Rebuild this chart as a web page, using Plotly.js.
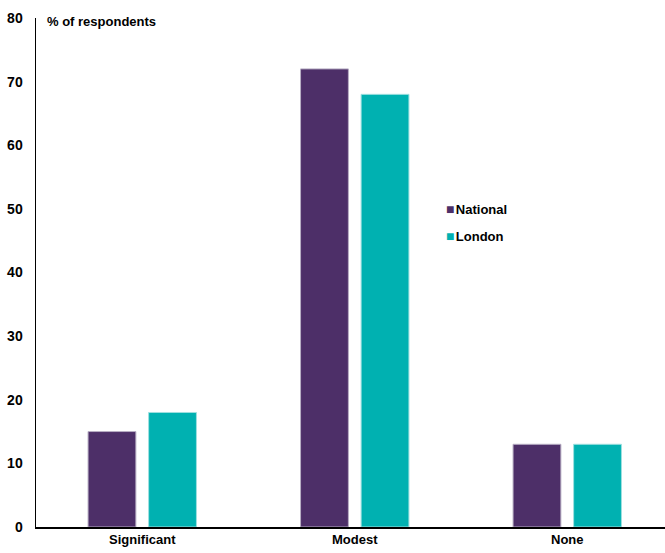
<!DOCTYPE html>
<html><head><meta charset="utf-8">
<script src="https://cdn.plot.ly/plotly-3.0.1.min.js"></script>
<style>html,body{margin:0;padding:0;background:#fff}#chart{width:665px;height:553px}</style>
</head><body><div id="chart"></div>
<script>
const categories = ["Significant", "Modest", "None"];
const seriesNames = ["National", "London"];
const nationalValues = [15, 72, 13];
const londonValues = [18, 68, 13];
const yTicks = [0, 10, 20, 30, 40, 50, 60, 70, 80];
const colors = ["#4D2F68", "#00B1B1"];
const FONT = "'Liberation Sans Narrow', 'Arial Narrow', 'Liberation Sans', Arial, sans-serif";

const traces = [
  {type: "bar", name: seriesNames[0], x: categories, y: nationalValues, showlegend: false,
   marker: {color: colors[0], line: {color: "#B8AFC4", width: 1}}, hoverinfo: "y"},
  {type: "bar", name: seriesNames[1], x: categories, y: londonValues, showlegend: false,
   marker: {color: colors[1], line: {color: "#9FE0E0", width: 1}}, hoverinfo: "y"}
];
const legendY = [0.625, 0.572];
const legendAnn = seriesNames.map((n, i) => ({
  text: "<span style='color:" + colors[i] + ";font-size:14px'>■</span><span style='font-size:5px'> </span>" + n,
  xref: "paper", yref: "paper", x: 0.649, y: legendY[i], xanchor: "left", yanchor: "middle",
  showarrow: false, font: {family: FONT, size: 13, weight: "bold", color: "#000"}
}));
const layout = {
  width: 665, height: 553,
  margin: {l: 36, r: 0, t: 18, b: 26},
  paper_bgcolor: "#fff", plot_bgcolor: "#fff",
  font: {family: FONT, size: 13, color: "#000"},
  barmode: "group", bargap: 0.43, bargroupgap: 0.21,
  showlegend: false,
  xaxis: {range: [-0.5, 2.46], showline: true, linecolor: "#000", linewidth: 1.5, ticks: "", showgrid: false,
          tickfont: {family: FONT, size: 13, weight: "bold"}, fixedrange: true},
  yaxis: {range: [0, 80], tickvals: yTicks, showline: true, linecolor: "#000", linewidth: 1.5,
          ticks: "", showgrid: false, zeroline: false, ticklabelstandoff: 9,
          tickfont: {family: FONT, size: 14, weight: "bold"}, fixedrange: true},
  annotations: [{text: "% of respondents", xref: "paper", yref: "paper", x: 0.015, y: 0.993,
                 xanchor: "left", yanchor: "middle", showarrow: false,
                 font: {family: FONT, size: 13, weight: "bold"}}].concat(legendAnn)
};
Plotly.newPlot("chart", traces, layout, {displayModeBar: false, staticPlot: true});
</script></body></html>
